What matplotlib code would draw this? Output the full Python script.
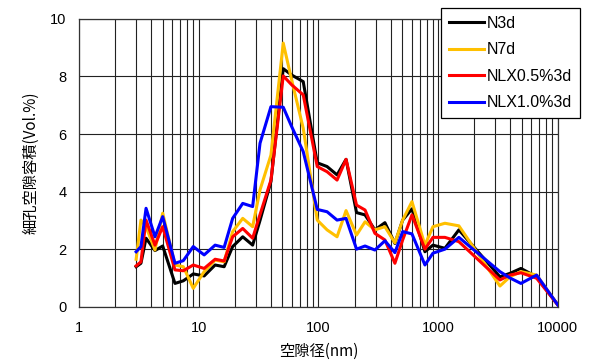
import matplotlib
matplotlib.use("Agg")
import matplotlib.pyplot as plt
from matplotlib.ticker import FixedLocator, NullFormatter

plt.rcParams['font.family'] = ['Liberation Sans', 'Noto Sans CJK JP', 'DejaVu Sans']

# pore diameter (nm)
pore = [3.0, 3.29, 3.63, 4.31, 5.0, 6.33, 7.43, 9.0, 11.1, 13.7, 16.3, 19.2,
        23.3, 28.2, 32.5, 40.1, 50.8, 59.7, 74.6, 97.7, 118, 143, 170, 208,
        245, 296, 359, 435, 505, 604, 775, 904, 1138, 1489, 3280, 3975, 4910,
        6640, 10000]

n3d = [1.39, 1.51, 2.38, 1.95, 2.11, 0.81, 0.90, 1.14, 1.07, 1.45, 1.39, 2.09,
       2.43, 2.14, 3.0, 4.35, 8.27, 8.05, 7.82, 5.0, 4.87, 4.58, 5.12, 3.27,
       3.19, 2.67, 2.92, 2.20, 3.01, 3.40, 1.91, 2.14, 2.03, 2.67, 1.04, 1.16,
       1.33, 1.04, 0.06]
n7d = [1.65, 3.01, 2.78, 1.97, 3.25, 1.45, 1.39, 0.64, 1.22, 1.62, 1.56, 2.61,
       3.07, 2.78, 4.06, 5.27, 9.16, 7.88, 6.20, 3.01, 2.67, 2.43, 3.34, 2.49,
       2.95, 2.67, 2.78, 2.22, 3.01, 3.65, 2.14, 2.78, 2.90, 2.81, 0.72, 1.04,
       1.22, 1.10, 0.06]
nlx05 = [1.42, 1.56, 3.01, 2.14, 2.78, 1.28, 1.25, 1.45, 1.33, 1.65, 1.59, 2.43,
         2.72, 2.38, 3.2, 4.40, 8.02, 7.71, 7.36, 4.87, 4.69, 4.40, 5.12, 3.53,
         3.36, 2.55, 2.32, 1.51, 2.32, 3.19, 2.00, 2.41, 2.41, 2.26, 0.93, 1.10,
         1.18, 0.99, 0.06]
nlx10 = [1.91, 2.09, 3.42, 2.43, 3.13, 1.51, 1.60, 2.09, 1.80, 2.14, 2.06, 3.07,
         3.59, 3.48, 5.68, 6.95, 6.93, 6.26, 5.39, 3.38, 3.30, 3.01, 3.07, 2.00,
         2.11, 1.97, 2.29, 1.88, 2.61, 2.53, 1.45, 1.86, 2.00, 2.41, 1.22, 1.0,
         0.81, 1.10, 0.06]

series = [("N3d", n3d, "#000000"),
          ("N7d", n7d, "#FFC000"),
          ("NLX0.5%3d", nlx05, "#FF0000"),
          ("NLX1.0%3d", nlx10, "#0000FF")]

fig = plt.figure(figsize=(5.91, 3.63), dpi=100)
ax = fig.add_axes([0.1337, 0.155, 0.8103, 0.793])

for name, vals, col in series:
    ax.plot(pore, vals, color=col, lw=2.2, label=name, zorder=3)

ax.set_xscale("log")
ax.set_xlim(1, 10000)
ax.set_ylim(0, 10)
ax.set_yticks([0, 2, 4, 6, 8, 10])
ax.xaxis.set_major_locator(FixedLocator([1, 10, 100, 1000, 10000]))
ax.set_xticklabels(["1", "10", "100", "1000", "10000"])
minors = [m * 10 ** d for d in range(4) for m in range(2, 10)]
ax.xaxis.set_minor_locator(FixedLocator(minors))
ax.xaxis.set_minor_formatter(NullFormatter())
ax.grid(True, which="both", axis="x", color="#222222", lw=0.8)
ax.grid(True, which="major", axis="y", color="#222222", lw=0.8)
ax.tick_params(which="both", length=0, labelsize=10.5)
ax.tick_params(axis="x", pad=10)
ax.tick_params(axis="y", pad=9)
for s in ax.spines.values():
    s.set_color("#333333")
    s.set_linewidth(0.9)

ax.set_xlabel("空隙径(nm)", fontsize=11, labelpad=6,
              family=['Noto Sans CJK JP', 'DejaVu Sans'])
ax.set_ylabel("細孔空隙容積(Vol.%)", fontsize=11, labelpad=8,
              family=['Noto Sans CJK JP', 'DejaVu Sans'])

leg = fig.legend(loc="upper right", bbox_to_anchor=(0.9814, 0.978),
                 borderaxespad=0, fontsize=11.5, handlelength=2.2,
                 handletextpad=0.15, labelspacing=0.72, borderpad=0.5,
                 fancybox=False, framealpha=1, edgecolor="#000000")
leg.get_frame().set_linewidth(0.9)

fig.savefig("out.png", dpi=100)
